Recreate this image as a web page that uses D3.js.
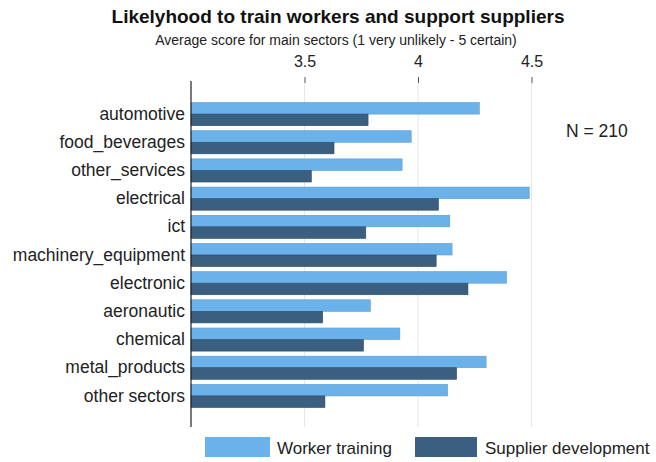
<!DOCTYPE html>
<html><head><meta charset="utf-8">
<script src="https://cdn.jsdelivr.net/npm/d3@7"></script>
<style>body{margin:0;background:#fff}svg{display:block;font-family:"Liberation Sans",Arial,sans-serif}</style>
</head><body><svg id="c" width="656" height="462"></svg>
<script>
const categories = ["automotive","food_beverages","other_services","electrical","ict","machinery_equipment","electronic","aeronautic","chemical","metal_products","other sectors"];
const workerTraining = [4.27,3.97,3.93,4.49,4.14,4.15,4.39,3.79,3.92,4.30,4.13];
const supplierDevelopment = [3.78,3.63,3.53,4.09,3.77,4.08,4.22,3.58,3.76,4.17,3.59];
const seriesNames = ["Worker training","Supplier development"];
const tickValues = [3.5,4,4.5];
const tickLabels = ["3.5","4","4.5"];
const colors = ["#6cb2ea","#3b5f80"];

const svg = d3.select("#c");
const x = d3.scaleLinear().domain([3,4.5]).range([191,531.5]);
const y = d3.scaleBand().domain(categories).range([100,410]).paddingInner(0.18).paddingOuter(0.09);
const y1 = d3.scaleBand().domain(seriesNames).range([0,y.bandwidth()]);

svg.append("text").attr("x",338).attr("y",23).attr("text-anchor","middle")
  .attr("font-size",19).attr("font-weight","bold").attr("fill","#111")
  .text("Likelyhood to train workers and support suppliers");
svg.append("text").attr("x",336).attr("y",45).attr("text-anchor","middle")
  .attr("font-size",14).attr("fill","#222")
  .text("Average score for main sectors (1 very unlikely - 5 certain)");

// gridlines
svg.append("g").selectAll("line").data(tickValues).join("line")
  .attr("x1",d=>x(d)).attr("x2",d=>x(d)).attr("y1",83).attr("y2",427)
  .attr("stroke","#e6e6e6").attr("stroke-width",1);

// top axis
const ax = svg.append("g").attr("transform","translate(0,83)")
  .call(d3.axisTop(x).tickValues(tickValues).tickFormat((d,i)=>tickLabels[i]).tickSize(6).tickPadding(10));
ax.select(".domain").remove();
ax.selectAll("text").attr("font-size",16).attr("fill","#222").attr("font-family","Liberation Sans, Arial, sans-serif");
ax.selectAll("line").attr("stroke","#555");

const series = [workerTraining, supplierDevelopment];
const g = svg.append("g");
categories.forEach((c,i)=>{
  series.forEach((s,j)=>{
    g.append("rect").attr("x",x(3)).attr("y",y(c)+y1(seriesNames[j]))
      .attr("width",x(s[i])-x(3)).attr("height",y1.bandwidth())
      .attr("fill",colors[j]).attr("stroke",j===0?"#5a9ad0":"#2c4a66").attr("stroke-width",0.6);
  });
});

// y axis
const ay = svg.append("g").attr("transform","translate(191,0)")
  .call(d3.axisLeft(y).tickSize(0).tickPadding(6));
ay.select(".domain").remove();
ay.selectAll("text").attr("font-size",17.5).attr("fill","#222").attr("font-family","Liberation Sans, Arial, sans-serif");
svg.append("line").attr("x1",191).attr("x2",191).attr("y1",81).attr("y2",427).attr("stroke","#222").attr("stroke-width",1.2);

svg.append("text").attr("x",566).attr("y",137).attr("font-size",17.5).attr("fill","#222").text("N = 210");

// legend
const leg = [{x:205,w:65,tx:277},{x:415,w:62,tx:485}];
seriesNames.forEach((n,j)=>{
  svg.append("rect").attr("x",leg[j].x).attr("y",437).attr("width",leg[j].w).attr("height",20).attr("fill",colors[j]);
  svg.append("text").attr("x",leg[j].tx).attr("y",454).attr("font-size",17).attr("fill","#222").text(n);
});
</script></body></html>
